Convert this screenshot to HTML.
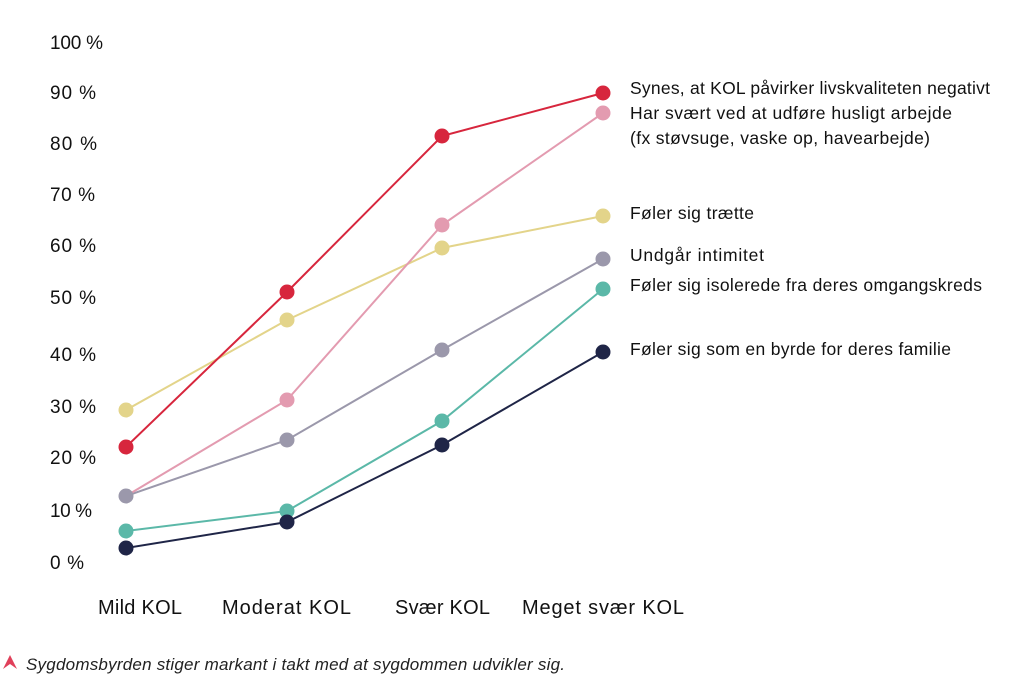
<!DOCTYPE html>
<html><head><meta charset="utf-8"><style>
html,body{margin:0;padding:0;background:#fff;}
svg{display:block;}
</style></head><body>
<svg width="1024" height="699" viewBox="0 0 1024 699" xmlns="http://www.w3.org/2000/svg">
<g font-family="Liberation Sans, sans-serif" font-size="19" fill="#111">
<text x="50" y="49" textLength="53">100 %</text>
<text x="50" y="99" textLength="46">90 %</text>
<text x="50" y="150" textLength="47">80 %</text>
<text x="50" y="201" textLength="45">70 %</text>
<text x="50" y="252" textLength="46">60 %</text>
<text x="50" y="304" textLength="46">50 %</text>
<text x="50" y="361" textLength="46">40 %</text>
<text x="50" y="413" textLength="46">30 %</text>
<text x="50" y="464" textLength="46">20 %</text>
<text x="50" y="517" textLength="42">10 %</text>
<text x="50" y="569" textLength="34">0 %</text>
</g>
<g font-family="Liberation Sans, sans-serif" font-size="20" fill="#111">
<text x="98" y="614" textLength="84">Mild KOL</text>
<text x="222" y="614" textLength="129">Moderat KOL</text>
<text x="395" y="614" textLength="95">Svær KOL</text>
<text x="522" y="614" textLength="162">Meget svær KOL</text>
</g>
<g font-family="Liberation Sans, sans-serif" font-size="17.5" fill="#111">
<text x="630" y="94" textLength="360">Synes, at KOL påvirker livskvaliteten negativt</text>
<text x="630" y="119" textLength="322">Har svært ved at udføre husligt arbejde</text>
<text x="630" y="144" textLength="300">(fx støvsuge, vaske op, havearbejde)</text>
<text x="630" y="219" textLength="124">Føler sig trætte</text>
<text x="630" y="261" textLength="134">Undgår intimitet</text>
<text x="630" y="291" textLength="352">Føler sig isolerede fra deres omgangskreds</text>
<text x="630" y="355" textLength="321">Føler sig som en byrde for deres familie</text>
</g>
<g fill="none" stroke-width="2">
<polyline stroke="#e3d48a" points="126,410 287,320 442,248 603,216"/>
<polyline stroke="#9b98ab" points="126,496 287,440 442,350 603,259"/>
<polyline stroke="#e39bb0" points="126,496 287,400 442,225 603,113"/>
<polyline stroke="#5bb8a8" points="126,531 287,511 442,421 603,289"/>
<polyline stroke="#1f2547" points="126,548 287,522 442,445 603,352"/>
<polyline stroke="#d7263d" points="126,447 287,292 442,136 603,93"/>
</g>
<g fill="#e3d48a"><circle cx="126" cy="410" r="7.5"/><circle cx="287" cy="320" r="7.5"/><circle cx="442" cy="248" r="7.5"/><circle cx="603" cy="216" r="7.5"/></g>
<g fill="#9b98ab"><circle cx="126" cy="496" r="7.5"/><circle cx="287" cy="440" r="7.5"/><circle cx="442" cy="350" r="7.5"/><circle cx="603" cy="259" r="7.5"/></g>
<g fill="#e39bb0"><circle cx="287" cy="400" r="7.5"/><circle cx="442" cy="225" r="7.5"/><circle cx="603" cy="113" r="7.5"/></g>
<g fill="#5bb8a8"><circle cx="126" cy="531" r="7.5"/><circle cx="287" cy="511" r="7.5"/><circle cx="442" cy="421" r="7.5"/><circle cx="603" cy="289" r="7.5"/></g>
<g fill="#1f2547"><circle cx="126" cy="548" r="7.5"/><circle cx="287" cy="522" r="7.5"/><circle cx="442" cy="445" r="7.5"/><circle cx="603" cy="352" r="7.5"/></g>
<g fill="#d7263d"><circle cx="126" cy="447" r="7.5"/><circle cx="287" cy="292" r="7.5"/><circle cx="442" cy="136" r="7.5"/><circle cx="603" cy="93" r="7.5"/></g>
<polygon points="3,669 10,655 17,669 10,664" fill="#e0405a"/>
<text x="26" y="670" font-family="Liberation Sans, sans-serif" font-style="italic" font-size="17" fill="#222" textLength="539">Sygdomsbyrden stiger markant i takt med at sygdommen udvikler sig.</text>
</svg>
</body></html>
